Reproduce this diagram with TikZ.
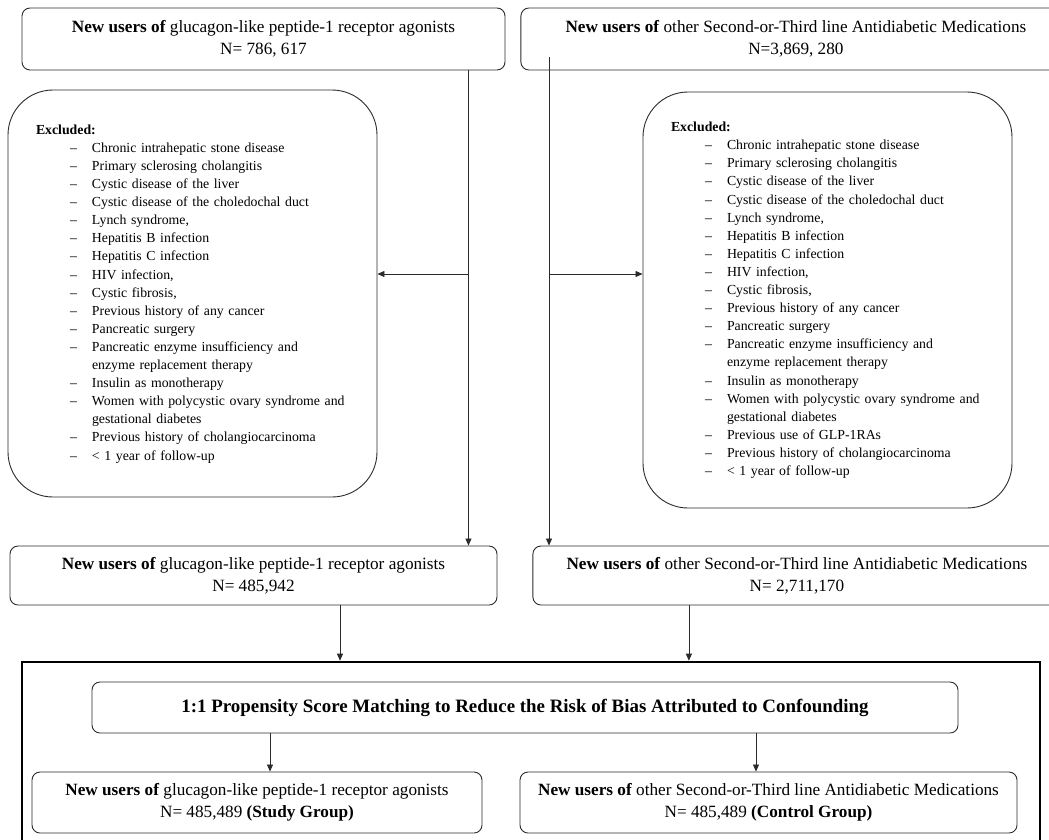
\documentclass[tikz,border=0pt]{standalone}
\usepackage{fontspec}
\setmainfont{Liberation Serif}
\usetikzlibrary{positioning, arrows.meta}
\definecolor{flowLine}{HTML}{2B2B2B}

\begin{document}
\begin{tikzpicture}[x=1pt, y=-1pt, font=\fontsize{17.2}{22}\selectfont,
    hdr/.style={draw=flowLine, line width=0.9pt, rounded corners=8pt, align=center, inner sep=0pt},
    excl/.style={draw=flowLine, line width=0.9pt, rounded corners=45pt, align=left, inner sep=0pt,
                 text width=313pt, minimum width=369pt, font=\fontsize{13.8}{18.1}\selectfont},
    arr/.style={-{Triangle[length=7pt, width=6pt]}, line width=0.8pt, flowLine}]
    \useasboundingbox (0,0) rectangle (1049,839);
    \clip (0,0) rectangle (1049,839);
    \fill[white] (0,0) rectangle (1049,839);

    % new users before exclusion
    \node[hdr, minimum width=483pt, minimum height=62pt] (glpA) at (263.5,39)
        {\textbf{New users of} glucagon-like peptide-1 receptor agonists\\N= 786, 617};
    \node[hdr, minimum width=550pt, minimum height=62pt, right=15pt of glpA] (admA)
        {\textbf{New users of} other Second-or-Third line Antidiabetic Medications\\N=3,869, 280};

    % exclusion criteria
    \node[excl, minimum height=407pt] (exclA) at (192.5,293.5) {%
      \begin{tabular}{@{}p{34pt}@{}p{22pt}@{}l@{}}
        \multicolumn{3}{@{}l@{}}{\textbf{Excluded:}}\\
        & – & Chronic intrahepatic stone disease\\
        & – & Primary sclerosing cholangitis\\
        & – & Cystic disease of the liver\\
        & – & Cystic disease of the choledochal duct\\
        & – & Lynch syndrome,\\
        & – & Hepatitis B infection\\
        & – & Hepatitis C infection\\
        & – & HIV infection,\\
        & – & Cystic fibrosis,\\
        & – & Previous history of any cancer\\
        & – & Pancreatic surgery\\
        & – & Pancreatic enzyme insufficiency and\\
        &   & enzyme replacement therapy\\
        & – & Insulin as monotherapy\\
        & – & Women with polycystic ovary syndrome and\\
        &   & gestational diabetes\\
        & – & Previous history of cholangiocarcinoma\\
        & – & < 1 year of follow-up
      \end{tabular}};
    \node[excl, minimum height=416pt] (exclB) at (827.5,300) {%
      \begin{tabular}{@{}p{34pt}@{}p{22pt}@{}l@{}}
        \multicolumn{3}{@{}l@{}}{\textbf{Excluded:}}\\
        & – & Chronic intrahepatic stone disease\\
        & – & Primary sclerosing cholangitis\\
        & – & Cystic disease of the liver\\
        & – & Cystic disease of the choledochal duct\\
        & – & Lynch syndrome,\\
        & – & Hepatitis B infection\\
        & – & Hepatitis C infection\\
        & – & HIV infection,\\
        & – & Cystic fibrosis,\\
        & – & Previous history of any cancer\\
        & – & Pancreatic surgery\\
        & – & Pancreatic enzyme insufficiency and\\
        &   & enzyme replacement therapy\\
        & – & Insulin as monotherapy\\
        & – & Women with polycystic ovary syndrome and\\
        &   & gestational diabetes\\
        & – & Previous use of GLP-1RAs\\
        & – & Previous history of cholangiocarcinoma\\
        & – & < 1 year of follow-up
      \end{tabular}};

    % new users after exclusion
    \node[hdr, minimum width=487pt, minimum height=59pt] (glpB) at (253.5,575.5)
        {\textbf{New users of} glucagon-like peptide-1 receptor agonists\\N= 485,942};
    \node[hdr, minimum width=528pt, minimum height=59pt, right=35pt of glpB] (admB)
        {\textbf{New users of} other Second-or-Third line Antidiabetic Medications\\N= 2,711,170};

    % matching frame
    \node[draw=black, line width=2.6pt, minimum width=1018pt, minimum height=200pt] (psmFrame) at (531,762) {};
    \node[hdr, minimum width=866pt, minimum height=51pt, font=\fontsize{18.9}{22}\selectfont\bfseries] (psm) at (525,707.5)
        {1:1 Propensity Score Matching to Reduce the Risk of Bias Attributed to Confounding};
    \node[hdr, minimum width=450pt, minimum height=61pt] (glpC) at (257,802.5)
        {\textbf{New users of} glucagon-like peptide-1 receptor agonists\\N= 485,489 \textbf{(Study Group)}};
    \node[hdr, minimum width=497pt, minimum height=61pt] (admC) at (768.5,802.5)
        {\textbf{New users of} other Second-or-Third line Antidiabetic Medications\\N= 485,489 \textbf{(Control Group)}};

    % connectors
    \coordinate (split) at (0,274);
    \path ([xshift=-37pt]glpA.south east) coordinate (glpDrop);
    \coordinate (admDrop) at (549,57);
    \draw[arr] (glpDrop) -- (glpDrop |- glpB.north);
    \draw[arr] (glpDrop |- split) -- (exclA.east |- split);
    \draw[arr] (admDrop) -- (admDrop |- admB.north);
    \draw[arr] (admDrop |- split) -- (exclB.west |- split);

    \path ([xshift=86.5pt]glpB.south) coordinate (glpMerge);
    \path ([xshift=-108pt]admB.south) coordinate (admMerge);
    \draw[arr] (glpMerge) -- (glpMerge |- psmFrame.north);
    \draw[arr] (admMerge) -- (admMerge |- psmFrame.north);

    \path ([xshift=-255pt]psm.south) coordinate (psmLeft);
    \path ([xshift=231pt]psm.south) coordinate (psmRight);
    \draw[arr] (psmLeft) -- (psmLeft |- glpC.north);
    \draw[arr] (psmRight) -- (psmRight |- admC.north);
\end{tikzpicture}
\end{document}
